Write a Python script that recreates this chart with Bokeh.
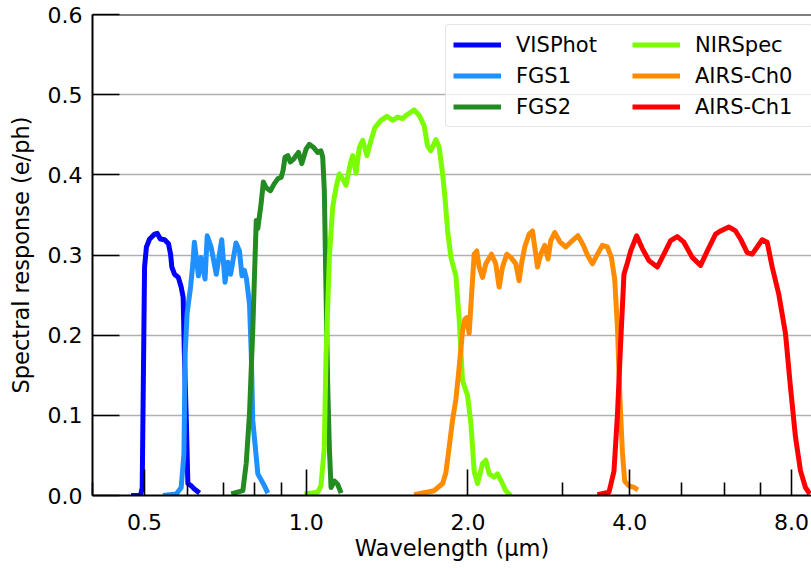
from bokeh.plotting import figure
from bokeh.models import (FixedTicker, PrintfTickFormatter, Legend, LegendItem,
                          Span, Range1d)
from bokeh.embed import file_html
from bokeh.resources import INLINE

# ---------------- data (wavelength in micron, response in e/ph) ----------------
vis_wl = [0.472, 0.4915, 0.495, 0.500, 0.504, 0.511, 0.522, 0.528, 0.535, 0.545,
          0.554, 0.559, 0.562, 0.5685, 0.578, 0.585, 0.590, 0.593, 0.598, 0.602,
          0.611, 0.619, 0.633]
vis_resp = [0.0, 0.0, 0.01, 0.285, 0.31, 0.32, 0.326, 0.327, 0.32, 0.319,
            0.314, 0.301, 0.285, 0.276, 0.272, 0.26, 0.247, 0.177, 0.094, 0.015,
            0.012, 0.008, 0.003]

fgs1_wl = [0.541, 0.573, 0.585, 0.592, 0.595, 0.600, 0.609, 0.615, 0.619, 0.630,
           0.637, 0.648, 0.654, 0.665, 0.680, 0.696, 0.706, 0.7145, 0.723, 0.740,
           0.751, 0.759, 0.767, 0.774, 0.784, 0.790, 0.795, 0.8125, 0.836, 0.848]
fgs1_resp = [0.0, 0.002, 0.01, 0.052, 0.177, 0.227, 0.26, 0.289, 0.316, 0.274,
             0.297, 0.270, 0.324, 0.31, 0.276, 0.319, 0.266, 0.291, 0.276, 0.315,
             0.305, 0.274, 0.281, 0.270, 0.239, 0.177, 0.094, 0.027, 0.012, 0.003]

fgs2_wl = [0.725, 0.762, 0.773, 0.784, 0.795, 0.807, 0.8125, 0.824, 0.832, 0.842,
           0.8575, 0.872, 0.885, 0.898, 0.905, 0.913, 0.924, 0.934, 0.948, 0.967,
           0.981, 0.999, 1.013, 1.0325, 1.050, 1.065, 1.073, 1.0805, 1.088, 1.096,
           1.104, 1.112, 1.128, 1.144, 1.161]
fgs2_resp = [0.002, 0.006, 0.04, 0.102, 0.206, 0.343, 0.333, 0.364, 0.391, 0.384,
             0.380, 0.389, 0.395, 0.397, 0.405, 0.422, 0.424, 0.416, 0.42, 0.428,
             0.414, 0.432, 0.438, 0.434, 0.428, 0.43, 0.422, 0.38, 0.26, 0.14,
             0.06, 0.01, 0.018, 0.014, 0.003]

nirspec_wl = [0.992, 1.050, 1.065, 1.0805, 1.088, 1.104, 1.120, 1.136, 1.152, 1.169,
              1.186, 1.208, 1.220, 1.238, 1.255, 1.274, 1.297, 1.320, 1.342, 1.377,
              1.413, 1.448, 1.479, 1.511, 1.540, 1.588, 1.623, 1.658, 1.682, 1.706,
              1.743, 1.768, 1.794, 1.812, 1.833, 1.859, 1.899, 1.926, 1.954, 1.996,
              2.025, 2.054, 2.084, 2.129, 2.159, 2.190, 2.237, 2.270, 2.302, 2.352,
              2.403]
nirspec_resp = [0.002, 0.004, 0.012, 0.06, 0.17, 0.297, 0.36, 0.384, 0.401, 0.395,
                0.387, 0.414, 0.424, 0.402, 0.434, 0.443, 0.424, 0.443, 0.459, 0.468,
                0.473, 0.468, 0.472, 0.47, 0.475, 0.481, 0.474, 0.461, 0.436, 0.43,
                0.444, 0.434, 0.401, 0.372, 0.33, 0.297, 0.274, 0.22, 0.143, 0.125,
                0.09, 0.03, 0.015, 0.04, 0.044, 0.027, 0.023, 0.027, 0.019, 0.006,
                0.0]

airs0_wl = [1.588, 1.730, 1.794, 1.819, 1.845, 1.872, 1.899, 1.926, 1.954, 1.973,
            1.990, 2.010, 2.031, 2.054, 2.077, 2.098, 2.129, 2.159, 2.212, 2.253,
            2.286, 2.319, 2.362, 2.403, 2.455, 2.490, 2.516, 2.551, 2.599, 2.637,
            2.663, 2.694, 2.732, 2.779, 2.819, 2.852, 2.901, 2.968, 3.041, 3.129,
            3.205, 3.280, 3.337, 3.409, 3.483, 3.558, 3.635, 3.698, 3.751, 3.795,
            3.837, 3.876, 3.915, 3.987, 4.074, 4.144]
airs0_resp = [0.001, 0.006, 0.015, 0.028, 0.06, 0.094, 0.12, 0.16, 0.205, 0.22,
              0.222, 0.202, 0.25, 0.301, 0.305, 0.285, 0.272, 0.289, 0.301, 0.289,
              0.26, 0.285, 0.301, 0.297, 0.289, 0.268, 0.289, 0.31, 0.326, 0.33,
              0.31, 0.285, 0.301, 0.312, 0.295, 0.318, 0.328, 0.316, 0.31, 0.318,
              0.324, 0.312, 0.3, 0.289, 0.301, 0.312, 0.31, 0.297, 0.27, 0.21,
              0.12, 0.055, 0.018, 0.012, 0.01, 0.007]

airs1_wl = [3.483, 3.660, 3.739, 3.795, 3.848, 3.903, 3.960, 4.017, 4.121, 4.223,
            4.344, 4.503, 4.632, 4.767, 4.905, 5.046, 5.231, 5.420, 5.578, 5.780,
            5.905, 6.118, 6.296, 6.432, 6.620, 6.763, 6.909, 7.059, 7.212, 7.368,
            7.579, 7.800, 7.969, 8.141, 8.317, 8.497, 8.655]
airs1_resp = [0.001, 0.004, 0.03, 0.1, 0.19, 0.276, 0.29, 0.305, 0.324, 0.308,
              0.293, 0.285, 0.301, 0.318, 0.323, 0.316, 0.297, 0.287, 0.305, 0.326,
              0.33, 0.335, 0.33, 0.32, 0.303, 0.301, 0.31, 0.319, 0.316, 0.285,
              0.251, 0.202, 0.135, 0.073, 0.031, 0.01, 0.002]

names = ["VISPhot", "FGS1", "FGS2", "NIRSpec", "AIRS-Ch0", "AIRS-Ch1"]
colors = ["#0000ff", "#1e90ff", "#228b22", "#7cfc00", "#ff8c00", "#ff0000"]
series = [(vis_wl, vis_resp), (fgs1_wl, fgs1_resp), (fgs2_wl, fgs2_resp),
          (nirspec_wl, nirspec_resp), (airs0_wl, airs0_resp), (airs1_wl, airs1_resp)]

x_major = [0.5, 1.0, 2.0, 4.0, 8.0]
x_minor = [0.4, 0.6, 0.7, 0.8, 0.9, 3.0, 5.0, 6.0, 7.0]
y_major = [0.0, 0.1, 0.2, 0.3, 0.4, 0.5, 0.6]

FONT = "DejaVu Sans"

p = figure(width=811, height=568, x_axis_type="log",
           x_range=Range1d(0.4, 8.72), y_range=Range1d(0.0, 0.6),
           output_backend="svg", toolbar_location=None,
           min_border_left=92, min_border_right=0, min_border_top=14,
           min_border_bottom=73)

p.outline_line_color = None
p.background_fill_color = "white"

renderers = []
for (wl, resp), c in zip(series, colors):
    r = p.line(wl, resp, line_color=c, line_width=5, line_join="round")
    renderers.append(r)

# top spine
p.add_layout(Span(location=0.6, dimension="width", line_color="black", line_width=2))

# axes
p.xaxis.ticker = FixedTicker(ticks=x_major, minor_ticks=x_minor)
p.xaxis.formatter = PrintfTickFormatter(format="%.1f")
p.yaxis.ticker = FixedTicker(ticks=y_major, minor_ticks=[])
p.yaxis.formatter = PrintfTickFormatter(format="%.1f")

for ax in (p.xaxis[0], p.yaxis[0]):
    ax.axis_line_color = "black"
    ax.axis_line_width = 2
    ax.major_tick_line_color = "black"
    ax.major_tick_line_width = 1.6
    ax.minor_tick_line_color = "black"
    ax.minor_tick_line_width = 1.6
    ax.major_tick_out = 0
    ax.minor_tick_out = 0
    ax.major_label_text_font = FONT
    ax.major_label_text_font_size = "22px"
    ax.major_label_text_color = "black"
    ax.axis_label_text_font = FONT
    ax.axis_label_text_font_size = "22.5px"
    ax.axis_label_text_font_style = "normal"
    ax.axis_label_text_color = "black"

p.xaxis.major_tick_in = 26
p.xaxis.minor_tick_in = 13
p.xaxis.major_label_standoff = 18
p.xaxis.axis_label_standoff = 2
p.xaxis.axis_label = "Wavelength (μm)"

p.yaxis.major_tick_in = 27
p.yaxis.minor_tick_in = 0
p.yaxis.major_label_standoff = 10
p.yaxis.axis_label_standoff = 11
p.yaxis.axis_label = "Spectral response (e/ph)"

p.xgrid.visible = False
p.ygrid.grid_line_color = "#b0b0b0"
p.ygrid.grid_line_width = 1.6

items = [LegendItem(label=n, renderers=[r]) for n, r in zip(names, renderers)]
legend = Legend(items=items, ncols=2, location=(353, 368),
                label_text_font=FONT, label_text_font_size="21px",
                label_text_color="black",
                glyph_width=48, glyph_height=25, label_standoff=15,
                label_width=110, padding=7, spacing=6,
                border_line_color="#cccccc", border_line_width=1.5,
                border_radius=4, background_fill_color="white",
                background_fill_alpha=0.8)
p.add_layout(legend)

open("out.html", "w").write(file_html(p, INLINE))
